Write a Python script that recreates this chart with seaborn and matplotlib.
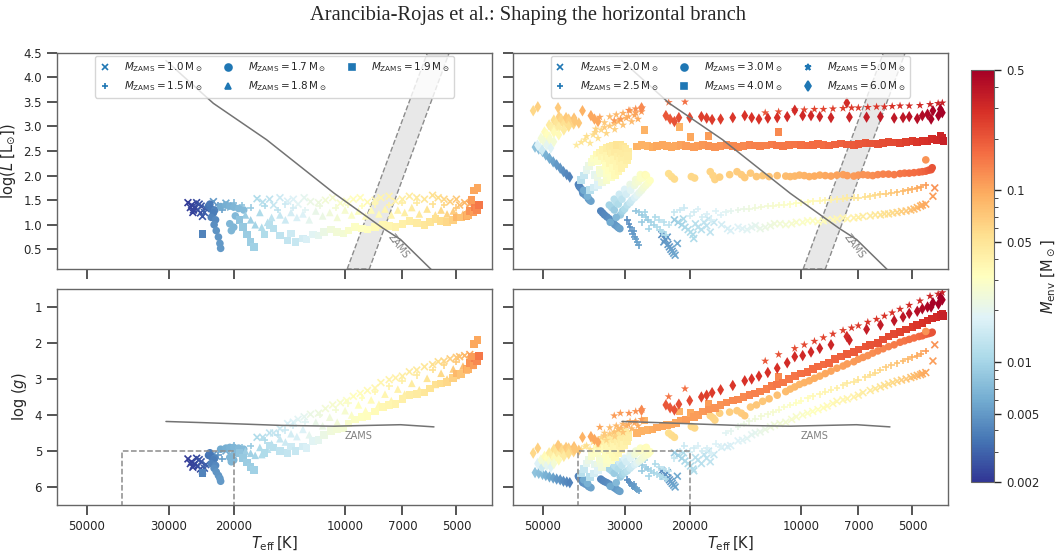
import matplotlib
matplotlib.use('Agg')
import matplotlib.pyplot as plt
import pandas as pd
import seaborn as sns
from matplotlib.colors import LogNorm
from matplotlib.lines import Line2D
from matplotlib.ticker import NullLocator, NullFormatter

# rows: (Teff [K], log L, log g, M_env [Msun])
trk_1p0 = [(26600,1.45,5.22,0.0021),(26000,1.40,5.30,0.0022),(25500,1.36,5.36,0.0023),(25000,1.30,5.42,0.0024),
           (24600,1.24,5.50,0.0025),(24300,1.17,5.56,0.0027),(25800,1.25,5.45,0.0022),(24800,1.42,5.24,0.0026),
           (23800,1.33,5.38,0.0030),(26200,1.35,5.35,0.0022),(25200,1.45,5.20,0.0024),(24500,1.38,5.30,0.0027),
           (24000,1.25,5.48,0.0029),(25700,1.30,5.40,0.0023),
           (22700,1.47,5.10,0.0050),(21000,1.44,5.00,0.0060),(20400,1.36,5.08,0.0070),
           (17300,1.53,4.62,0.011),(16700,1.46,4.62,0.012),(16000,1.52,4.50,0.013),(15600,1.40,4.50,0.014),
           (15000,1.55,4.38,0.015),(14300,1.48,4.24,0.017),(13800,1.52,4.20,0.018),(13400,1.42,4.12,0.019),
           (12900,1.55,4.05,0.020),(12400,1.47,3.98,0.022),(11800,1.45,3.95,0.023),(11300,1.50,3.82,0.025),
           (10800,1.55,3.72,0.027),(10300,1.44,3.66,0.028),(9900,1.48,3.60,0.030),(9500,1.52,3.48,0.032),
           (9100,1.55,3.40,0.033),(8700,1.46,3.32,0.035),(8300,1.50,3.25,0.036),(8000,1.55,3.10,0.038),
           (7600,1.58,3.02,0.039),(7300,1.48,2.97,0.040),(7000,1.52,2.92,0.042),(6700,1.58,2.80,0.044),
           (6400,1.55,2.75,0.046),(6100,1.52,2.66,0.048),(5800,1.60,2.60,0.052),(5600,1.55,2.52,0.055),
           (5400,1.52,2.50,0.060),(5200,1.47,2.44,0.065),(5000,1.52,2.40,0.070),(4900,1.40,2.38,0.075),
           (4750,1.45,2.35,0.085),(4600,1.42,2.32,0.10)]
trk_1p5 = [(22000,1.40,5.12,0.0050),(21500,1.30,5.22,0.0055),(20000,1.45,4.85,0.0070),(19000,1.40,4.90,0.0080),
           (18000,1.35,4.86,0.0090),(16500,1.38,4.70,0.011),(15200,1.30,4.55,0.013),(14500,1.42,4.42,0.015),
           (13800,1.35,4.30,0.016),(12800,1.30,4.20,0.019),(11700,1.38,4.00,0.023),(10600,1.35,3.85,0.026),
           (9800,1.40,3.68,0.029),(9000,1.38,3.52,0.032),(8300,1.42,3.35,0.036),(7600,1.40,3.20,0.039),
           (7000,1.45,3.05,0.042),(6400,1.45,2.90,0.046),(5800,1.42,2.75,0.052),(5400,1.40,2.62,0.060),
           (5000,1.35,2.52,0.070)]
trk_1p7 = [(23400,1.38,5.12,0.0035),(23200,1.42,5.05,0.0037),(23000,1.32,5.16,0.0036),(22500,1.30,5.20,0.0040),
           (22700,1.24,5.25,0.0038),(23000,1.15,5.35,0.0040),(22400,1.10,5.40,0.0042),(22600,1.00,5.48,0.0045),
           (22300,0.88,5.58,0.0047),(22000,0.75,5.68,0.0048),(21800,0.62,5.76,0.0050),(21700,0.52,5.84,0.0050),
           (21700,1.37,4.95,0.0060),(21000,1.40,4.92,0.0062),(20500,1.38,4.90,0.0065),(20000,1.36,4.90,0.0068),
           (19400,1.33,4.92,0.0070),(18800,1.30,4.95,0.0072),(19800,1.18,5.05,0.0070),(20500,1.02,5.18,0.0068),
           (20000,0.95,5.25,0.0067),(20300,0.88,5.30,0.0068)]
trk_1p8 = [(18600,1.20,5.00,0.0090),(18000,1.10,5.06,0.0095),(17500,1.00,5.12,0.010),(17000,1.25,4.90,0.011),
           (16800,0.95,5.10,0.011),(16200,1.05,4.95,0.012),(15800,1.15,4.80,0.013),(15000,1.20,4.66,0.014),
           (14500,1.10,4.75,0.015),(14000,1.25,4.52,0.016),(13500,1.15,4.60,0.017),(13000,1.22,4.40,0.018),
           (12500,1.10,4.55,0.020),(12000,1.28,4.20,0.021),(11500,1.18,4.30,0.022),(11000,1.25,4.06,0.024),
           (10500,1.15,4.20,0.025),(10000,1.30,3.88,0.027),(9600,1.20,4.00,0.029),(9200,1.28,3.72,0.031),
           (8800,1.18,3.88,0.032),(8500,1.30,3.58,0.034),(8100,1.22,3.70,0.035),(7800,1.32,3.42,0.037),
           (7500,1.20,3.60,0.038),(7200,1.30,3.28,0.040),(6900,1.25,3.42,0.042),(6600,1.35,3.12,0.044),
           (6300,1.22,3.30,0.047),(6000,1.32,2.98,0.050),(5700,1.20,3.15,0.053),(5500,1.30,2.84,0.058),
           (5300,1.22,3.00,0.062),(5100,1.28,2.72,0.068),(5000,1.20,2.90,0.072),(4800,1.22,2.64,0.080),
           (4700,1.25,2.75,0.090),(4550,1.30,2.62,0.10)]
trk_1p9 = [(24300,0.81,5.61,0.0040),(19300,1.10,5.05,0.0080),(18900,0.95,5.20,0.0085),(18400,0.80,5.32,0.0090),
           (18000,0.65,5.45,0.0092),(17600,0.55,5.52,0.0095),(16500,0.80,5.05,0.011),(16000,1.00,4.85,0.012),
           (15600,0.92,4.90,0.012),(15000,0.78,5.00,0.013),(14300,0.68,5.05,0.0135),(14000,0.82,4.88,0.015),
           (13600,0.65,5.00,0.014),(13000,0.72,4.88,0.016),(12700,0.70,4.92,0.017),(12200,0.80,4.72,0.019),
           (11800,0.78,4.70,0.020),(11400,0.85,4.56,0.022),(10900,0.90,4.45,0.024),(10500,0.85,4.40,0.025),
           (10100,0.82,4.38,0.026),(9800,0.88,4.24,0.028),(9400,0.95,4.12,0.030),(9000,0.92,4.06,0.031),
           (8700,0.90,4.02,0.032),(8300,0.95,3.90,0.034),(7900,1.00,3.78,0.036),(7600,0.98,3.72,0.037),
           (7300,0.95,3.70,0.039),(7000,1.02,3.56,0.041),(6700,1.08,3.45,0.043),(6400,1.03,3.42,0.045),
           (6100,1.00,3.38,0.048),(5900,1.05,3.26,0.050),(5700,1.12,3.15,0.053),(5500,1.08,3.12,0.056),
           (5300,1.05,3.08,0.060),(5100,1.10,2.98,0.065),(5000,1.15,2.85,0.085),(4850,1.15,2.86,0.075),
           (4700,1.18,2.72,0.10),(4650,1.20,2.74,0.090),(4600,1.28,2.55,0.12),(4500,1.25,2.62,0.11),
           (4450,1.36,2.42,0.14),(4400,1.30,2.50,0.13),(4350,1.40,2.36,0.15),(4550,1.50,2.38,0.11),
           (4480,1.70,2.02,0.10),(4380,1.75,1.92,0.10)]

trk_2p0 = [(23800,0.80,5.55,0.0045),(23500,0.65,5.70,0.0049),(23300,0.70,5.65,0.0048),(22900,0.60,5.75,0.0050),
           (22700,0.55,5.80,0.0051),(22500,0.50,5.85,0.0052),(22300,0.46,5.90,0.0054),(22100,0.42,5.95,0.0055),
           (21900,0.38,6.00,0.0057),(23000,0.75,5.60,0.0050),(21600,0.62,5.70,0.0060),
           (22000,1.10,5.05,0.009),(21500,1.05,5.12,0.0095),(21000,1.00,5.20,0.010),(20800,1.12,5.05,0.011),
           (20600,0.95,5.28,0.0105),(20200,0.90,5.35,0.011),(19900,0.85,5.42,0.011),(19600,0.80,5.50,0.011),
           (19500,0.72,5.55,0.011),(19300,1.02,5.18,0.012),(19000,0.95,5.25,0.012),(18600,0.90,5.35,0.012),
           (18300,1.05,5.10,0.013),(18000,0.98,5.20,0.013),(17800,1.12,5.00,0.014),(17600,0.85,5.30,0.013),
           (17200,1.05,5.10,0.014),(16400,1.00,4.90,0.016),(15800,0.92,4.88,0.0165),(15500,0.88,4.85,0.017),
           (14800,0.95,4.72,0.018),(14400,0.92,4.70,0.0185),(14000,0.90,4.65,0.019),(13600,0.95,4.55,0.0195),
           (13300,0.98,4.50,0.020),(12900,0.92,4.47,0.021),(12500,0.95,4.40,0.022),(12100,0.98,4.33,0.023),
           (11800,1.02,4.28,0.024),(11400,1.02,4.24,0.025),(11000,1.00,4.20,0.026),(10600,1.02,4.12,0.027),
           (10300,1.05,4.05,0.028),(9900,1.05,4.00,0.029),(9600,1.08,3.95,0.030),(9300,1.08,3.90,0.031),
           (9000,1.06,3.85,0.032),(8700,1.08,3.80,0.033),(8500,1.10,3.75,0.034),(8200,1.10,3.68,0.035),
           (8000,1.12,3.62,0.036),(7700,1.14,3.58,0.037),(7500,1.12,3.55,0.038),(7200,1.14,3.50,0.040),
           (7000,1.15,3.45,0.041),(6800,1.17,3.38,0.043),(6500,1.18,3.32,0.045),(6300,1.20,3.27,0.047),
           (6100,1.20,3.22,0.050),(5950,1.22,3.18,0.052),(5800,1.22,3.14,0.055),(5650,1.24,3.10,0.057),
           (5500,1.25,3.06,0.060),(5350,1.27,3.03,0.065),(5200,1.28,3.00,0.070),(5050,1.30,2.96,0.075),
           (4950,1.32,2.93,0.080),(4850,1.35,2.90,0.085),(4750,1.38,2.88,0.090),(4700,1.40,2.85,0.095),
           (4600,1.42,2.82,0.10),(4400,1.58,2.50,0.11),(4350,1.75,2.05,0.12)]
trk_2p5 = [(29500,1.10,5.80,0.0045),(29200,1.02,5.85,0.0046),(29000,0.95,5.90,0.0047),(28700,0.88,5.95,0.0049),
           (28500,0.82,5.98,0.0050),(28200,0.76,6.02,0.0051),(28000,0.70,6.05,0.0052),(27700,0.64,6.08,0.0054),
           (27500,0.58,6.10,0.0055),(28300,0.88,5.92,0.0050),
           (28000,1.28,5.30,0.008),(27500,1.25,5.35,0.009),(27000,1.20,5.40,0.009),(27000,1.05,5.55,0.009),
           (26500,1.25,5.25,0.010),(26300,1.15,5.45,0.0095),(26000,1.10,5.50,0.009),(25800,0.92,5.70,0.010),
           (25500,1.05,5.55,0.010),(25000,1.00,5.60,0.010),(24800,1.15,5.35,0.011),(24500,0.95,5.65,0.011),
           (24200,1.10,5.45,0.012),(24000,0.90,5.70,0.011),(23700,0.85,5.72,0.011),(23500,1.05,5.50,0.012),
           (23200,0.80,5.78,0.011),(22800,1.00,5.55,0.013),(22000,1.25,5.20,0.014),(21300,1.30,5.00,0.015),
           (20700,1.35,4.85,0.015),(20000,1.18,5.02,0.016),(19500,1.25,4.92,0.016),(19000,1.32,4.85,0.017),
           (18500,1.15,5.00,0.016),(18000,1.22,4.92,0.017),(17500,1.10,5.05,0.017),(17000,1.28,4.80,0.018),
           (16500,1.20,4.88,0.018),(16000,1.25,4.50,0.019),(15500,1.28,4.45,0.020),(14800,1.30,4.33,0.021),
           (14300,1.32,4.25,0.022),(13800,1.33,4.18,0.023),(13300,1.35,4.10,0.024),(12800,1.36,4.04,0.025),
           (12300,1.38,3.98,0.026),(11900,1.39,3.92,0.027),(11500,1.40,3.85,0.028),(11100,1.41,3.78,0.029),
           (10700,1.42,3.72,0.030),(10300,1.44,3.66,0.031),(10000,1.45,3.60,0.032),(9600,1.46,3.54,0.033),
           (9300,1.48,3.48,0.035),(8900,1.49,3.42,0.036),(8600,1.50,3.35,0.038),(8300,1.51,3.30,0.039),
           (8000,1.52,3.25,0.041),(7700,1.53,3.18,0.043),(7500,1.55,3.12,0.045),(7200,1.55,3.07,0.047),
           (7000,1.55,3.02,0.050),(6700,1.57,2.95,0.052),(6500,1.58,2.88,0.055),(6300,1.60,2.82,0.057),
           (6100,1.62,2.75,0.060),(5900,1.63,2.68,0.065),(5700,1.65,2.62,0.070),(5500,1.66,2.56,0.075),
           (5300,1.68,2.50,0.080),(5150,1.70,2.45,0.085),(5000,1.72,2.40,0.090),(4850,1.74,2.35,0.095),
           (4750,1.76,2.30,0.10),(4600,1.80,2.22,0.11)]
trk_3p0 = [(40000,1.82,5.70,0.0040),(39800,1.78,5.74,0.0041),(39500,1.75,5.78,0.0042),(39000,1.68,5.85,0.0045),
           (38900,1.64,5.88,0.0046),(38300,1.60,5.92,0.0048),(37600,1.53,5.98,0.0050),(37300,1.50,6.00,0.0052),
           (37000,1.48,6.02,0.0055),(38700,1.70,5.80,0.0060),(37800,1.58,5.90,0.0065),
           (34800,1.28,5.78,0.0040),(34400,1.24,5.82,0.0041),(34000,1.20,5.85,0.0042),(33500,1.16,5.88,0.0043),
           (33000,1.12,5.92,0.0045),(32200,1.04,6.00,0.0048),(31900,1.00,6.03,0.0049),(31500,0.97,6.07,0.0050),
           (31200,0.94,6.10,0.0052),(30900,0.92,6.12,0.0055),(32800,1.05,5.98,0.0060),(31600,1.15,5.88,0.0070),
           (22800,2.04,4.50,0.055),(22400,1.98,4.56,0.056),(22000,1.93,4.62,0.057),(19800,1.98,4.32,0.060),
           (19400,1.95,4.36,0.060),(17600,2.08,4.02,0.062),(17300,2.00,4.08,0.062),(17100,1.92,4.14,0.063),
           (16600,1.97,3.95,0.065),(15600,2.02,3.92,0.066),(14900,2.08,3.88,0.068),(14500,2.02,3.95,0.068),
           (14200,1.96,4.02,0.070),(13700,2.05,3.78,0.070),(13200,1.98,3.72,0.072),(12700,2.00,3.62,0.073),
           (12200,1.98,3.55,0.075),(11600,2.00,3.45,0.078),(11000,1.99,3.35,0.080),(10700,1.98,3.28,0.082),
           (10400,1.99,3.22,0.085),(10100,2.01,3.15,0.087),(9800,2.00,3.10,0.090),(9500,1.98,3.05,0.092),
           (9200,1.99,2.98,0.095),(8900,2.01,2.92,0.097),(8600,2.00,2.85,0.10),(8300,1.99,2.78,0.102),
           (8000,2.01,2.70,0.105),(7700,2.02,2.64,0.107),(7500,2.00,2.58,0.11),(7200,1.99,2.52,0.112),
           (7000,2.01,2.45,0.115),(6800,2.02,2.40,0.118),(6600,2.01,2.35,0.12),(6400,2.00,2.28,0.125),
           (6200,2.02,2.22,0.13),(6000,2.03,2.16,0.135),(5800,2.03,2.10,0.14),(5600,2.02,2.05,0.145),
           (5400,2.04,1.98,0.15),(5250,2.05,1.94,0.155),(5100,2.05,1.90,0.16),(4950,2.06,1.86,0.165),
           (4800,2.07,1.82,0.17),(4700,2.08,1.80,0.175),(4600,2.09,1.76,0.18),(4520,2.11,1.74,0.19),
           (4450,2.12,1.72,0.20),(4420,2.16,1.70,0.21),(4600,2.32,1.68,0.12)]
hook_3p0 = [(33000,1.40,5.50,0.010),(32500,1.35,5.55,0.010),(32000,1.30,5.62,0.009),(32000,1.52,5.40,0.012),
            (31600,1.47,5.45,0.012),(31200,1.42,5.50,0.011),(31000,1.62,5.30,0.015),(30800,1.20,5.72,0.009),
            (30700,1.57,5.35,0.015),(30500,1.52,5.40,0.013),(30400,1.28,5.65,0.010),(30000,1.72,5.20,0.018),
            (30000,1.32,5.60,0.011),(29800,1.67,5.25,0.018),(29700,1.62,5.30,0.016),(29500,1.40,5.55,0.012),
            (29000,1.82,5.10,0.022),(29000,1.45,5.48,0.014),(28900,1.76,5.15,0.021),(28900,1.70,5.20,0.019),
            (28700,1.50,5.43,0.015),(28200,1.80,5.10,0.023),(28200,1.55,5.38,0.017),(28000,1.92,5.00,0.026),
            (28000,1.85,5.06,0.025),(27800,1.60,5.33,0.019),(27500,1.88,5.02,0.027),(27400,1.65,5.28,0.021),
            (27200,2.02,4.92,0.030),(27200,1.95,4.98,0.030),(27000,1.70,5.23,0.023),(26800,1.95,4.95,0.030),
            (26700,1.75,5.18,0.025),(26400,2.02,4.92,0.034),(26300,1.80,5.12,0.027),(26200,2.00,4.90,0.033),
            (25900,1.85,5.08,0.029),(25600,1.90,5.02,0.031)]
trk_4p0 = [(27800,2.59,4.50,0.09),(27000,2.62,4.45,0.09),(26500,2.93,4.15,0.09),(26000,2.60,4.42,0.09),
           (25200,2.58,4.40,0.095),(24500,2.60,4.35,0.10),(23700,2.62,4.30,0.10),(23000,2.60,4.28,0.10),
           (22400,2.58,4.26,0.10),(21800,2.60,4.22,0.10),(21300,2.99,3.90,0.09),(21100,2.62,4.15,0.105),
           (20500,2.60,4.12,0.11),(19900,2.79,3.95,0.10),(19500,2.58,4.05,0.11),(19000,2.60,4.00,0.11),
           (18400,2.62,3.90,0.115),(17800,2.81,3.70,0.11),(17800,2.60,3.85,0.12),(17100,2.58,3.80,0.12),
           (16500,2.60,3.72,0.12),(15900,2.62,3.65,0.125),(15300,2.60,3.60,0.13),(14800,2.58,3.57,0.13),
           (14300,2.60,3.50,0.13),(13800,2.62,3.44,0.135),(13300,2.61,3.40,0.14),(12900,2.60,3.35,0.14),
           (12400,2.61,3.27,0.14),(12000,2.63,3.20,0.145),(11600,2.61,3.15,0.15),(11500,2.89,2.95,0.13),
           (11200,2.60,3.10,0.15),(10800,2.62,3.00,0.15),(10400,2.63,2.92,0.155),(10000,2.62,2.85,0.16),
           (9600,2.61,2.80,0.165),(9300,2.62,2.72,0.17),(9000,2.64,2.65,0.17),(8700,2.62,2.60,0.17),
           (8400,2.61,2.55,0.175),(8100,2.63,2.45,0.18),(7800,2.65,2.38,0.185),(7500,2.63,2.30,0.19),
           (7200,2.62,2.25,0.195),(7000,2.64,2.18,0.20),(6700,2.66,2.10,0.205),(6500,2.65,2.05,0.21),
           (6200,2.64,2.00,0.215),(6000,2.66,1.90,0.22),(5800,2.68,1.82,0.225),(5600,2.67,1.75,0.23),
           (5400,2.66,1.70,0.24),(5200,2.68,1.62,0.25),(5000,2.70,1.55,0.26),(4850,2.69,1.50,0.27),
           (4700,2.70,1.45,0.28),(4550,2.71,1.38,0.29),(4420,2.74,1.32,0.30),(4300,2.73,1.27,0.31),
           (4200,2.80,1.22,0.32),(4150,2.76,1.20,0.33),(4120,2.70,1.25,0.34)]
hook_4p0 = [(39300,1.91,5.62,0.012),(38600,2.00,5.50,0.014),(38000,2.12,5.35,0.020),(37500,2.20,5.25,0.022),
            (37200,1.71,5.72,0.012),(36900,2.28,5.14,0.028),(36300,2.35,5.05,0.030),(36300,1.76,5.63,0.016),
            (36100,2.01,5.37,0.020),(35700,2.42,4.94,0.035),(35500,1.95,5.40,0.022),(35500,2.30,5.05,0.030),
            (35400,1.81,5.54,0.018),(35000,2.12,5.21,0.028),(35000,2.47,4.86,0.038),(34700,2.05,5.28,0.026),
            (34500,1.86,5.45,0.024),(34500,2.40,4.88,0.036),(34300,2.52,4.77,0.040),(34000,2.32,4.95,0.035),
            (33800,2.20,5.08,0.032),(33600,1.91,5.34,0.028),(33600,2.05,5.22,0.030),(33500,2.56,4.70,0.042),
            (33500,2.40,4.85,0.038),(33000,2.10,5.15,0.032),(33000,2.35,4.90,0.036),(32900,2.59,4.63,0.045),
            (32900,2.25,4.97,0.036),(32700,1.96,5.25,0.030),(32700,2.50,4.72,0.044),(32500,2.45,4.78,0.042),
            (32200,2.61,4.58,0.046),(32200,2.15,5.08,0.034),(32000,2.32,4.86,0.038),(31900,2.01,5.16,0.035),
            (31800,2.50,4.68,0.045),(31500,2.62,4.53,0.050),(31500,2.20,4.98,0.037),(31300,2.39,4.74,0.042),
            (31200,2.08,5.05,0.036),(31000,2.30,4.85,0.040),(30900,2.62,4.50,0.050),(30800,2.45,4.66,0.044),
            (30600,2.15,4.94,0.040),(30500,2.35,4.78,0.042),(30300,2.59,4.48,0.048),(30200,2.45,4.62,0.044),
            (30100,2.23,4.83,0.040),(29800,2.55,4.50,0.046),(29600,2.32,4.72,0.042),(29400,2.49,4.53,0.045),
            (29400,2.40,4.62,0.043)]
trk_5p0 = [(35000,3.19,4.34,0.10),(32000,3.12,4.02,0.11),(30800,3.15,3.95,0.11),(29200,3.33,3.95,0.12),
           (28000,3.36,3.90,0.12),(26900,3.38,3.85,0.13),(22800,3.49,3.49,0.15),(20600,3.50,3.27,0.16),
           (12500,3.28,2.50,0.20),(11500,3.30,2.32,0.21),(10400,3.34,2.15,0.22),(9800,3.34,2.05,0.23),
           (9200,3.35,1.95,0.24),(8700,3.35,1.85,0.24),(8200,3.36,1.75,0.25),(7700,3.37,1.65,0.25),
           (7300,3.38,1.58,0.26),(7000,3.38,1.52,0.26),(6600,3.39,1.42,0.27),(6250,3.40,1.34,0.27),
           (5950,3.40,1.25,0.28),(5670,3.41,1.16,0.28),(5400,3.42,1.06,0.29),(5100,3.42,0.95,0.30),
           (4770,3.43,0.83,0.31),(4480,3.45,0.70,0.32),(4260,3.47,0.64,0.33),(4150,3.48,0.60,0.34)]
hook_5p0 = [(40500,2.62,5.00,0.045),(39300,2.68,4.95,0.050),(38400,2.73,4.88,0.050),(38000,2.80,4.85,0.055),
            (37200,2.66,4.95,0.050),(36500,2.83,4.75,0.055),(36000,2.88,4.70,0.060),(35900,2.95,4.68,0.062),
            (35400,2.76,4.82,0.055),(34700,2.93,4.62,0.060),(34000,2.98,4.58,0.068),(34000,3.08,4.50,0.070),
            (33600,2.86,4.70,0.060),(32900,3.01,4.52,0.070),(32900,3.20,4.35,0.080),(32000,3.06,4.47,0.075),
            (31900,2.94,4.60,0.065),(31600,3.24,4.30,0.085),(31200,3.10,4.40,0.080),(30700,3.14,4.36,0.085),
            (30300,3.03,4.48,0.075),(30300,3.27,4.25,0.090),(29700,3.17,4.30,0.090),(29300,3.20,4.27,0.095),
            (29000,3.32,4.18,0.10),(28700,3.10,4.38,0.085),(28200,3.23,4.22,0.10),(28000,3.28,4.18,0.105),
            (27600,3.15,4.30,0.095),(27000,3.30,4.12,0.11)]
trk_6p0 = [(53000,3.32,5.06,0.060),(51500,3.40,4.92,0.065),(45400,3.38,4.84,0.070),(39000,3.32,4.62,0.090),
           (37000,3.22,4.60,0.10),(36200,3.15,4.68,0.10),(35400,3.10,4.75,0.10),(27000,3.38,3.87,0.13),
           (23200,3.22,3.72,0.20),(22600,3.15,3.80,0.20),(22000,3.10,3.86,0.21),(21400,3.18,3.70,0.22),
           (20000,3.18,3.60,0.23),(18600,3.20,3.50,0.25),(18000,3.17,3.45,0.25),(17400,3.14,3.38,0.26),
           (16500,3.15,3.30,0.26),(15300,3.18,3.18,0.27),(14200,3.22,3.05,0.28),(13600,3.18,3.00,0.28),
           (13000,3.15,2.92,0.28),(12300,3.17,2.82,0.29),(11600,3.18,2.70,0.29),(10900,3.20,2.55,0.30),
           (10400,3.33,2.38,0.30),(9900,3.22,2.35,0.31),(9400,3.22,2.25,0.31),(8900,3.20,2.15,0.32),
           (8300,3.18,2.05,0.32),(7520,3.48,1.82,0.30),(7400,3.19,1.92,0.33),(6650,3.19,1.62,0.35),
           (6100,3.20,1.50,0.36),(5600,3.17,1.38,0.37),(5300,3.18,1.28,0.38),(5100,3.20,1.18,0.40),
           (4850,3.16,1.12,0.42),(4700,3.22,1.05,0.43),(4550,3.25,1.00,0.45),(4450,3.15,1.00,0.47),
           (4400,3.32,0.88,0.48),(4250,3.22,0.92,0.50),(4200,3.35,0.75,0.50),(4150,3.28,0.80,0.50)]
hook_6p0 = [(52400,2.58,5.60,0.008),(51200,2.54,5.62,0.0075),(50000,2.49,5.65,0.007),(49000,2.42,5.68,0.0065),
            (47900,2.35,5.72,0.006),(46800,2.28,5.75,0.0055),(45800,2.22,5.78,0.005),(44800,2.15,5.80,0.0048),
            (43900,2.08,5.84,0.0045),(43000,2.02,5.86,0.0042),(42200,1.97,5.88,0.004),
            (51600,2.62,5.35,0.018),(50800,2.57,5.40,0.018),(50500,2.76,5.25,0.026),(50100,2.52,5.45,0.015),
            (49700,2.71,5.30,0.025),(49400,2.89,5.15,0.034),(49000,2.66,5.35,0.024),(48700,2.84,5.20,0.032),
            (48700,2.62,5.40,0.020),(48000,3.03,5.05,0.045),(48000,2.79,5.25,0.032),(47800,2.74,5.30,0.027),
            (47500,2.56,5.45,0.018),(47300,2.98,5.10,0.042),(46600,3.13,4.95,0.055),(46600,2.93,5.15,0.040),
            (46600,2.88,5.20,0.035),(46600,2.69,5.35,0.026),(45900,3.08,5.00,0.050),(45200,3.03,5.05,0.048),
            (45200,2.98,5.10,0.044),(45200,2.83,5.25,0.035),(45100,3.20,4.88,0.065),(44500,3.15,4.93,0.060),
            (43800,3.10,4.98,0.058),(43800,3.05,5.04,0.054),(43800,2.93,5.15,0.045),(43200,3.18,4.90,0.070),
            (42500,3.15,4.92,0.068),(42500,3.10,4.98,0.064),(42500,3.00,5.08,0.055),(41200,3.05,5.02,0.062),
            (41100,3.17,4.88,0.078),(41000,3.12,4.95,0.072),(39900,3.07,4.98,0.072)]

zams_teff = [30500, 22700, 16300, 10700, 7900, 7080, 5600]
zams_logL = [4.34, 3.47, 2.73, 1.64, 0.93, 0.70, -0.05]
zams_g_teff = [30500, 24600, 14800, 10700, 7080, 5750]
zams_logg = [4.18, 4.21, 4.29, 4.31, 4.27, 4.33]
strip_teff = [9870, 5990, 5230, 8600]
strip_logL = [0.1, 4.5, 4.5, 0.1]
box_teff = [40000, 40000, 20000, 20000]
box_logg = [7.0, 5.0, 5.0, 7.0]

teff_ticks = [50000, 30000, 20000, 10000, 7000, 5000]
left_set = [('1.0', 'x', trk_1p0), ('1.5', '+', trk_1p5), ('1.7', 'o', trk_1p7),
            ('1.8', '^', trk_1p8), ('1.9', 's', trk_1p9)]
right_set = [('2.0', 'x', trk_2p0), ('2.5', '+', trk_2p5), ('3.0', 'o', hook_3p0 + trk_3p0),
             ('4.0', 's', hook_4p0 + trk_4p0), ('5.0', '*', hook_5p0 + trk_5p0), ('6.0', 'd', hook_6p0 + trk_6p0)]

sns.set_style('ticks')
norm = LogNorm(vmin=0.002, vmax=0.5)
cmap = 'RdYlBu_r'

fig = plt.figure(figsize=(10.57, 5.53), dpi=100)
W = 0.4115
ax_tl = fig.add_axes([0.0542, 0.5136, W, 0.391])
ax_tr = fig.add_axes([0.4856, 0.5136, W, 0.391])
ax_bl = fig.add_axes([0.0542, 0.0868, W, 0.3906])
ax_br = fig.add_axes([0.4856, 0.0868, W, 0.3906])


def draw(ax, tracks, ycol):
    for _, mk, rows in tracks:
        df = pd.DataFrame(rows, columns=['teff', 'logL', 'logg', 'menv'])
        if mk in ('x', '+'):
            kw = dict(s=24, linewidth=1.2)
        elif mk == '*':
            kw = dict(s=38, linewidth=0)
        elif mk == 'd':
            kw = dict(s=34, linewidth=0)
        else:
            kw = dict(s=30, linewidth=0)
        sns.scatterplot(data=df, x='teff', y=ycol, hue='menv', hue_norm=norm, palette=cmap,
                        marker=mk, legend=False, ax=ax, zorder=2, **kw)


for ax, tracks, ycol in [(ax_tl, left_set, 'logL'), (ax_tr, right_set, 'logL'),
                         (ax_bl, left_set, 'logg'), (ax_br, right_set, 'logg')]:
    ax.set_xscale('log')
    if ycol == 'logL':
        ax.fill(strip_teff, strip_logL, facecolor='#e8e8e8', edgecolor='0.55', ls='--', lw=1, zorder=1)
    draw(ax, tracks, ycol)
    if ycol == 'logL':
        ax.plot(zams_teff, zams_logL, color='0.45', lw=1.1, zorder=3)
        ax.text(7160, 0.56, 'ZAMS', color='0.5', fontsize=7, rotation=-53, ha='center', va='center', zorder=3)
        ax.set_ylim(0.1, 4.5)
        ax.set_yticks([0.5, 1.0, 1.5, 2.0, 2.5, 3.0, 3.5, 4.0, 4.5])
    else:
        ax.plot(zams_g_teff, zams_logg, color='0.45', lw=1.1, zorder=3)
        ax.text(9180, 4.59, 'ZAMS', color='0.5', fontsize=7, ha='center', va='center', zorder=3)
        ax.plot(box_teff, box_logg, color='0.55', ls='--', lw=1.1, zorder=3)
        ax.set_ylim(6.5, 0.5)
        ax.set_yticks([1, 2, 3, 4, 5, 6])
    ax.set_xlim(60000, 4000)
    ax.set_xticks(teff_ticks, [str(t) for t in teff_ticks])
    ax.xaxis.set_minor_locator(NullLocator())
    ax.tick_params(axis='both', which='major', length=7.5, width=1.1, labelsize=8.5, color='0.15')
    for sp in ax.spines.values():
        sp.set_color('0.4')
        sp.set_linewidth(1.0)
    ax.set_xlabel('')
    ax.set_ylabel('')

for ax in (ax_tl, ax_tr):
    ax.tick_params(labelbottom=False)
for ax in (ax_tr, ax_br):
    ax.tick_params(labelleft=False)
for ax in (ax_bl, ax_br):
    ax.set_xlabel(r'$T_\mathrm{eff}\,[\mathrm{K}]$', fontsize=10.5, labelpad=1)
ax_tl.set_ylabel(r'$\log(L\ [\mathrm{L}_{\odot}])$', fontsize=10.5)
ax_bl.set_ylabel(r'$\log\,(g)$', fontsize=10.5)

for ax, sset in [(ax_tl, left_set), (ax_tr, right_set)]:
    handles = [Line2D([], [], ls='none', marker=mk, color='#1f77b4', markersize=5, mew=1.2,
                      label=r'$M_\mathrm{ZAMS} = %s\,\mathrm{M}_\odot$' % m) for m, mk, _ in sset]
    ax.legend(handles=handles, loc='upper center', ncol=3, fontsize=7.5, borderaxespad=0.35,
              columnspacing=1.9, handlelength=1.0, handletextpad=1.4, edgecolor='0.8')

cax = fig.add_axes([0.9185, 0.128, 0.022, 0.745])
sm = plt.cm.ScalarMappable(norm=norm, cmap=cmap)
cb = fig.colorbar(sm, cax=cax)
cb.set_ticks([0.002, 0.005, 0.01, 0.05, 0.1, 0.5])
cb.set_ticklabels(['0.002', '0.005', '0.01', '0.05', '0.1', '0.5'])
cb.ax.minorticks_on()
cb.ax.yaxis.set_minor_formatter(NullFormatter())
cb.ax.tick_params(labelsize=8.5, length=5, width=1)
cb.ax.tick_params(which='minor', length=3)
cb.outline.set_edgecolor('0.4')
cb.set_label(r'$M_\mathrm{env}\ [\mathrm{M}_\odot]$', fontsize=10.5)
cb.ax.yaxis.set_label_coords(2.95, 0.5)

fig.text(0.5, 0.972, 'Arancibia-Rojas et al.: Shaping the horizontal branch',
         ha='center', va='center', family='Liberation Serif', fontsize=14.8)

fig.savefig('out.png', dpi=100)
